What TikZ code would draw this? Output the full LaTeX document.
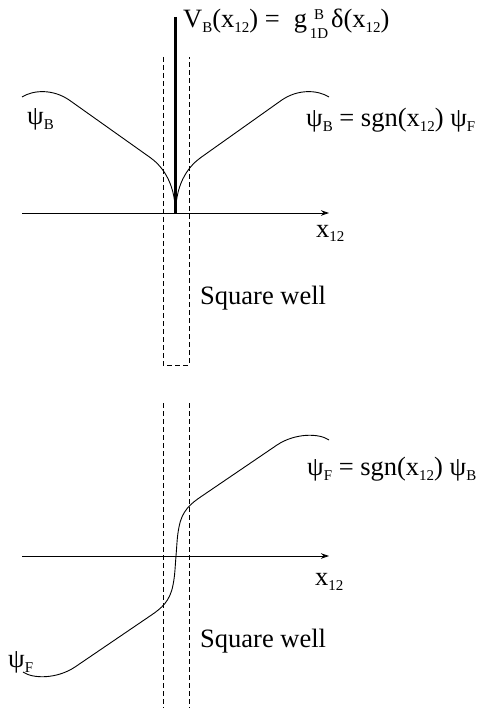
\documentclass[tikz,border=0pt]{standalone}
\usepackage{fontspec}
\setmainfont{Liberation Serif}
\usetikzlibrary{arrows.meta}
\newcommand\lo[1]{\raisebox{-5pt}{\fontsize{15}{15}\selectfont #1}}
\newcommand\gstack{\makebox[20pt][c]{\raisebox{-11pt}{\fontsize{15}{15}\selectfont 1D}}\llap{\makebox[20pt][c]{\raisebox{8pt}{\fontsize{15}{15}\selectfont B}}}}
\begin{document}
\begin{tikzpicture}[x=1pt,y=-1pt,
  lbl/.style={anchor=base west,inner sep=0pt,font=\fontsize{26.5}{30}\selectfont},
  curve/.style={line width=0.9pt},
  axis/.style={line width=0.9pt,-{Stealth[length=8pt,width=5.5pt]}},
  well/.style={line width=0.8pt,dash pattern=on 5pt off 3pt},
  delta/.style={line width=3pt}]
\useasboundingbox (0,0) rectangle (479,708);
% ---------- top panel ----------
\coordinate (a1s) at (22,213);
\coordinate (a1e) at (329,213);
\draw[axis] (a1s) -- (a1e);
\coordinate (w1a) at (163,57);
\coordinate (w1b) at (163,365);
\coordinate (w1c) at (189,365);
\coordinate (w1d) at (189,57);
\draw[well] (w1a) -- (w1b) -- (w1c) -- (w1d);
\coordinate (dtop) at (175.5,17);
\coordinate (dbot) at (175.5,213);
\draw[delta] (dtop) -- (dbot);
\draw[curve] (22,97) .. controls (33,90) and (53,88.5) .. (70,100.6)
  -- (150,157.4) .. controls (160,164.5) and (175,180) .. (175.5,213)
  .. controls (176,180) and (191,164.5) .. (201,157.4)
  -- (281,100.6) .. controls (298,88.5) and (318,90) .. (329,97);
\node[lbl] (vb) at (183,28) {V\lo{B}(x\lo{12}) =\hspace{14pt}g\hspace{2pt}\gstack\hspace{2pt}δ(x\lo{12})};
\node[lbl] (psib) at (27,125) {ψ\lo{B}};
\node[lbl] (eqb) at (306,127) {ψ\lo{B} = sgn(x\lo{12}) ψ\lo{F}};
\node[lbl] (x1) at (316,237) {x\lo{12}};
\node[lbl] (sq1) at (200,304) {Square well};
% ---------- bottom panel ----------
\coordinate (a2s) at (22,556);
\coordinate (a2e) at (329,556);
\draw[axis] (a2s) -- (a2e);
\coordinate (w2a) at (163,403);
\coordinate (w2b) at (163,708);
\coordinate (w2c) at (189,403);
\coordinate (w2d) at (189,708);
\draw[well] (w2a) -- (w2b);
\draw[well] (w2c) -- (w2d);
\draw[curve] (23,672) .. controls (33,679) and (57,679) .. (75,667)
  -- (150,616) .. controls (162,608) and (170,601) .. (173,585)
  .. controls (175,575) and (175,568) .. (176,556)
  .. controls (177,544) and (177,537) .. (179,527)
  .. controls (182,511) and (190,504) .. (202,496)
  -- (277,445) .. controls (295,433) and (319,433) .. (329,440);
\node[lbl] (psif) at (8,667) {ψ\lo{F}};
\node[lbl] (eqf) at (307,475) {ψ\lo{F} = sgn(x\lo{12}) ψ\lo{B}};
\node[lbl] (x2) at (315,585) {x\lo{12}};
\node[lbl] (sq2) at (200,647) {Square well};
\end{tikzpicture}
\end{document}
